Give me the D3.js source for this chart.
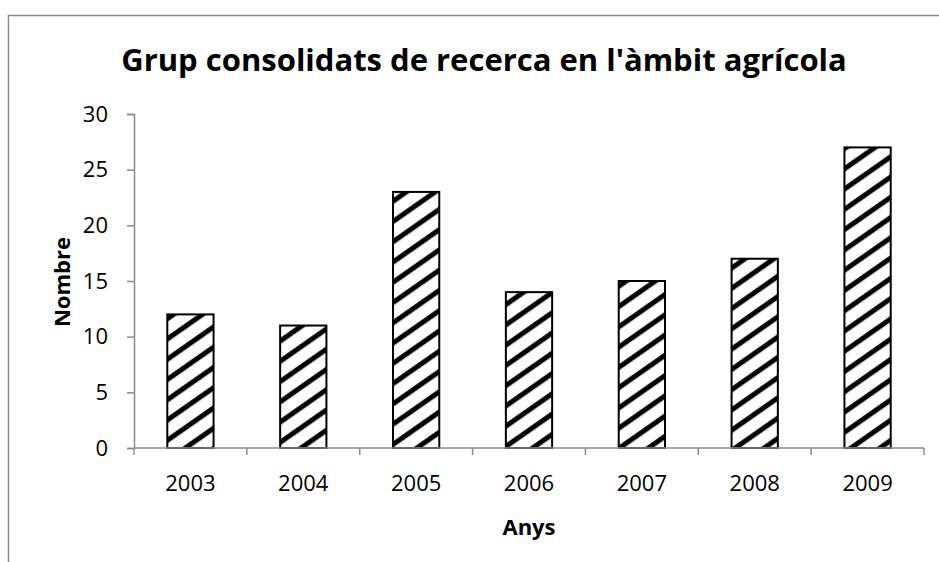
<!DOCTYPE html>
<html>
<head>
<meta charset="utf-8">
<script src="https://cdn.jsdelivr.net/npm/d3@7"></script>
<style>
  body { margin: 0; background: #fff; }
  svg { display: block; font-family: 'Open Sans', sans-serif; }
</style>
</head>
<body>
<svg id="chart" width="939" height="562"></svg>
<script>
const years = ['2003', '2004', '2005', '2006', '2007', '2008', '2009'];
const counts = [12, 11, 23, 14, 15, 17, 27];
const yTicks = [0, 5, 10, 15, 20, 25, 30];

const margin = {left: 134, right: 15, top: 114, bottom: 114};
const plotRight = 924;

var svg = d3.select('#chart');

// outer chart frame, runs off the right and bottom edge
svg.append('rect')
    .attr('x', 8.5).attr('y', 15.5)
    .attr('width', 1000).attr('height', 1000)
    .attr('fill', 'none')
    .attr('stroke', '#8c8c8c')
    .attr('stroke-width', 1.5);

// hatch pattern
var pat = svg.append('defs').append('pattern')
    .attr('id', 'hatch')
    .attr('patternUnits', 'userSpaceOnUse')
    .attr('width', 10).attr('height', 16.6)
    .attr('patternTransform', 'rotate(-35)');
pat.append('rect').attr('width', 10).attr('height', 16.6).attr('fill', '#fff');
pat.append('rect').attr('y', 6).attr('width', 10).attr('height', 5).attr('fill', '#000');

var x = d3.scaleBand()
    .domain(years)
    .range([margin.left, plotRight])
    .paddingInner(0.59)
    .paddingOuter(0.295);

var y = d3.scaleLinear()
    .domain([0, 30])
    .range([448, 114]);

svg.selectAll('rect.bar')
    .data(counts)
    .join('rect')
    .attr('class', 'bar')
    .attr('x', (d, i) => x(years[i]))
    .attr('y', d => y(d))
    .attr('width', x.bandwidth())
    .attr('height', d => y(0) - y(d))
    .attr('fill', 'url(#hatch)')
    .attr('stroke', '#000')
    .attr('stroke-width', 2);

// y axis
var yAxis = svg.append('g')
    .attr('transform', 'translate(' + margin.left + ',0)')
    .call(d3.axisLeft(y).tickValues(yTicks).tickSize(7).tickPadding(19));
yAxis.select('.domain').attr('stroke', '#8c8c8c').attr('stroke-width', 1.5);
yAxis.selectAll('.tick line').attr('stroke', '#8c8c8c').attr('stroke-width', 1.5);
yAxis.selectAll('.tick text')
    .attr('font-size', 22)
    .attr('font-family', 'Open Sans, sans-serif')
    .attr('fill', '#000');

// x axis, ticks on the category boundaries
svg.append('line')
    .attr('x1', margin.left).attr('x2', plotRight)
    .attr('y1', 448).attr('y2', 448)
    .attr('stroke', '#8c8c8c').attr('stroke-width', 1.5);
svg.selectAll('line.xtick')
    .data(d3.range(years.length + 1))
    .join('line')
    .attr('class', 'xtick')
    .attr('x1', i => margin.left + i * (plotRight - margin.left) / years.length)
    .attr('x2', i => margin.left + i * (plotRight - margin.left) / years.length)
    .attr('y1', 448).attr('y2', 455)
    .attr('stroke', '#8c8c8c').attr('stroke-width', 1.5);
svg.selectAll('text.xlabel')
    .data(years)
    .join('text')
    .attr('class', 'xlabel')
    .attr('x', d => x(d) + x.bandwidth() / 2)
    .attr('y', 491)
    .attr('text-anchor', 'middle')
    .attr('font-size', 22)
    .text(d => d);

// titles
svg.append('text')
    .attr('x', 484).attr('y', 71)
    .attr('text-anchor', 'middle')
    .attr('font-size', 31)
    .attr('font-weight', 'bold')
    .text("Grup consolidats de recerca en l'àmbit agrícola");

svg.append('text')
    .attr('x', 529).attr('y', 535)
    .attr('text-anchor', 'middle')
    .attr('font-size', 22)
    .attr('font-weight', 'bold')
    .text('Anys');

svg.append('text')
    .attr('transform', 'translate(70,282) rotate(-90)')
    .attr('text-anchor', 'middle')
    .attr('font-size', 22)
    .attr('font-weight', 'bold')
    .text('Nombre');
</script>
</body>
</html>
